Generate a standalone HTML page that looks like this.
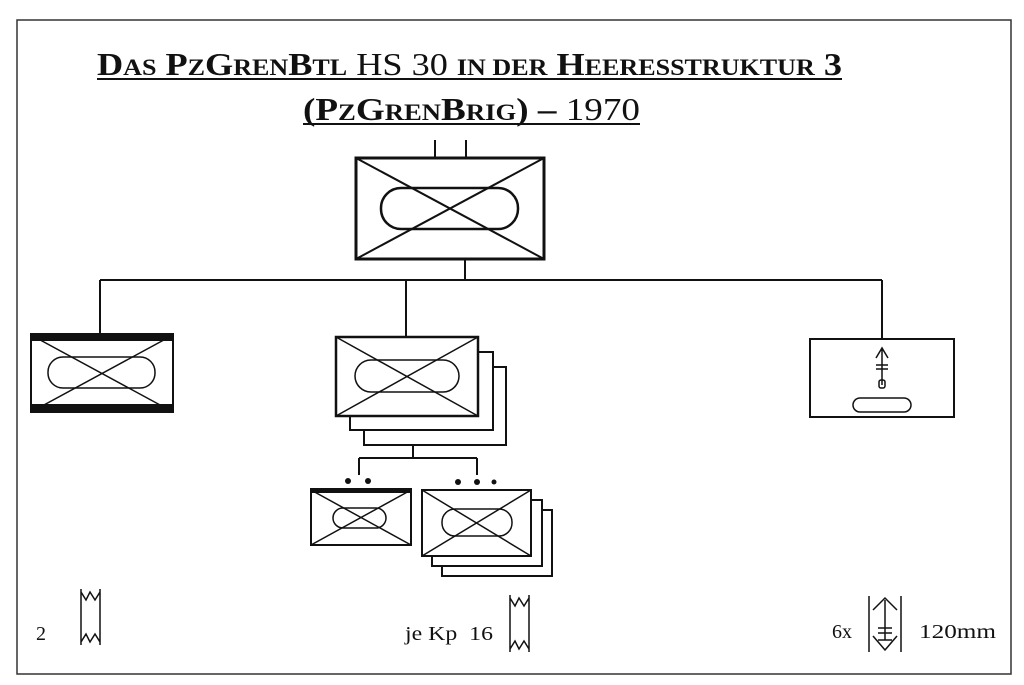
<!DOCTYPE html>
<html><head><meta charset="utf-8"><style>
body{margin:0;background:#fff;width:1024px;height:685px;overflow:hidden}
svg{display:block}
text{font-family:"Liberation Serif",serif}
</style></head><body>
<svg width="1024" height="685" viewBox="0 0 1024 685">
<rect x="17" y="20" width="994" height="654" fill="none" stroke="#333" stroke-width="1.5"/>
<g font-weight="bold" fill="#111">
<text x="97" y="75" font-size="32" textLength="745" lengthAdjust="spacingAndGlyphs">D<tspan font-size="23">AS</tspan> P<tspan font-size="23">Z</tspan>G<tspan font-size="23">REN</tspan>B<tspan font-size="23">TL</tspan> <tspan font-weight="normal">HS 30</tspan> <tspan font-size="23">IN DER</tspan> H<tspan font-size="23">EERESSTRUKTUR</tspan> 3</text>
<text x="303" y="120" font-size="32" textLength="337" lengthAdjust="spacingAndGlyphs">(P<tspan font-size="23">Z</tspan>G<tspan font-size="23">REN</tspan>B<tspan font-size="23">RIG</tspan>) – <tspan font-weight="normal">1970</tspan></text>
</g>
<g stroke="#111" fill="none">
<line x1="97" y1="79" x2="842" y2="79" stroke-width="2"/>
<line x1="303" y1="124" x2="640" y2="124" stroke-width="2"/>
<line x1="435" y1="140" x2="435" y2="157" stroke-width="2"/>
<line x1="466" y1="140" x2="466" y2="157" stroke-width="2"/>
<rect x="356" y="158" width="188" height="101" stroke-width="3"/>
<path d="M356 158L544 259M544 158L356 259" stroke-width="2"/>
<rect x="381" y="188" width="137" height="41" rx="20" stroke-width="2.5"/>
<path d="M465 259V280M100 280H882M100 280V333M406 280V337M882 280V339" stroke-width="2"/>
<rect x="31" y="335" width="142" height="77" stroke-width="2"/>
<rect x="30" y="333" width="144" height="8" fill="#111" stroke="none"/>
<rect x="30" y="404" width="144" height="9" fill="#111" stroke="none"/>
<path d="M31 335L173 412M173 335L31 412" stroke-width="1.5"/>
<rect x="48" y="357" width="107" height="31" rx="15" stroke-width="1.5"/>
<rect x="364" y="367" width="142" height="78" fill="#fff" stroke-width="2"/>
<rect x="350" y="352" width="143" height="78" fill="#fff" stroke-width="2"/>
<rect x="336" y="337" width="142" height="79" fill="#fff" stroke-width="2.5"/>
<path d="M336 337L478 416M478 337L336 416" stroke-width="1.5"/>
<rect x="355" y="360" width="104" height="32" rx="16" stroke-width="1.5"/>
<path d="M413 445V458M359 458H477M359 458V475M477 458V475" stroke-width="2"/>
<rect x="311" y="490" width="100" height="55" stroke-width="2"/>
<rect x="310" y="488" width="102" height="5" fill="#111" stroke="none"/>
<path d="M311 490L411 545M411 490L311 545" stroke-width="1.5"/>
<rect x="333" y="508" width="53" height="20" rx="10" stroke-width="1.5"/>
<rect x="442" y="510" width="110" height="66" fill="#fff" stroke-width="2"/>
<rect x="432" y="500" width="110" height="66" fill="#fff" stroke-width="2"/>
<rect x="422" y="490" width="109" height="66" fill="#fff" stroke-width="2"/>
<path d="M422 490L531 556M531 490L422 556" stroke-width="1.5"/>
<rect x="442" y="509" width="70" height="27" rx="13" stroke-width="1.5"/>
<rect x="810" y="339" width="144" height="78" stroke-width="2"/>
<path d="M882 348V385M876 358L882 348L888 358M876 365H888M876 369H888" stroke-width="1.5"/>
<rect x="879" y="380" width="6" height="8" rx="2" stroke-width="1.5"/>
<rect x="853" y="398" width="58" height="14" rx="7" stroke-width="1.5"/>
<path d="M81 589V645M100 589V645M81 592L86 600L90 592L95 600L100 592M81 642L86 634L90 642L95 634L100 642" stroke-width="1.5"/>
<path d="M510 595V652M529 595V652M510 598L515 606L519 598L524 606L529 598M510 649L515 641L519 649L524 641L529 649" stroke-width="1.5"/>
<path d="M869 596V652M901 596V652M873 610L885 598L897 610M885 600V640M878 628H892M878 633H892M878 640H892M873 636L885 650L897 636" stroke-width="1.5"/>
</g>
<g fill="#111">
<circle cx="348" cy="481" r="3"/><circle cx="368" cy="481" r="3"/>
<circle cx="458" cy="482" r="3"/><circle cx="477" cy="482" r="3"/><circle cx="494" cy="482" r="2.5"/>
<text x="36" y="640" font-size="20">2</text>
<text x="405" y="640" font-size="20" textLength="88" lengthAdjust="spacingAndGlyphs">je Kp&#160; 16</text>
<text x="832" y="638" font-size="20" textLength="20" lengthAdjust="spacingAndGlyphs">6x</text>
<text x="919" y="638" font-size="20" textLength="77" lengthAdjust="spacingAndGlyphs">120mm</text>
</g>
</svg>
</body></html>
